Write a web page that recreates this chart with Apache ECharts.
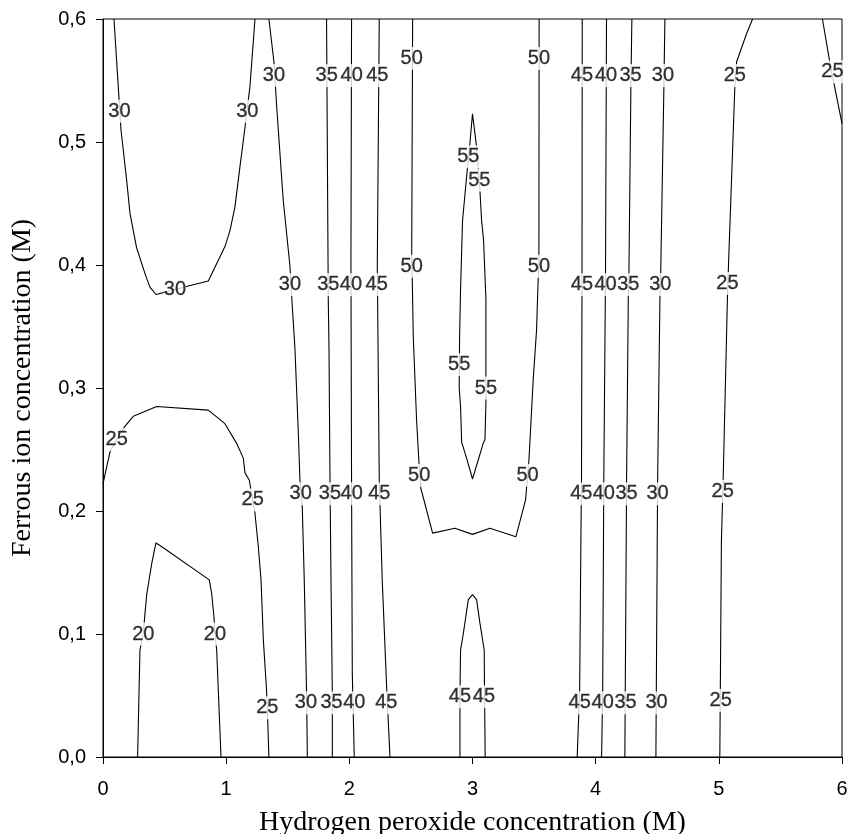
<!DOCTYPE html>
<html>
<head>
<meta charset="UTF-8">
<title>Contour</title>
<script src="https://cdn.jsdelivr.net/npm/echarts@6/dist/echarts.min.js"></script>
<style>
  html, body { margin: 0; height: 100%; background: #fff; }
  #main { width: 848px; height: 834px; }
</style>
</head>
<body>
<div id="main"></div>
<script>
// contour lines, [H2O2 (M), Fe2+ (M)]
var c20 = [[0.281,0],[0.300,0.087],[0.327,0.100],[0.341,0.117],[0.355,0.132],[0.395,0.157],[0.430,0.174],[0.463,0.172],[0.863,0.144],[0.882,0.133],[0.901,0.114],[0.909,0.100],[0.923,0.087],[0.958,0]];
var c25left = [[0,0.222],[0.057,0.248],[0.111,0.258],[0.179,0.269],[0.246,0.277],[0.436,0.285],[0.855,0.282],[0.990,0.271],[1.085,0.255],[1.139,0.243],[1.153,0.231],[1.188,0.225],[1.215,0.209],[1.234,0.198],[1.261,0.171],[1.283,0.144],[1.302,0.095],[1.328,0.054],[1.334,0.040],[1.347,0]];
var c25right = [[5.274,0.6],[5.225,0.588],[5.144,0.565],[5.130,0.545],[5.076,0.393],[5.070,0.374],[5.035,0.225],[5.021,0.176],[5.008,0]];
var c25corner = [[5.841,0.6],[5.901,0.565],[5.940,0.545],[6.0,0.515]];
var c30loop = [[0.089,0.6],[0.124,0.545],[0.146,0.510],[0.192,0.469],[0.219,0.442],[0.273,0.414],[0.341,0.393],[0.381,0.382],[0.430,0.376],[0.584,0.380],[0.693,0.383],[0.855,0.387],[0.990,0.415],[1.031,0.428],[1.071,0.447],[1.112,0.480],[1.153,0.512],[1.193,0.545],[1.234,0.6]];
var c30mid = [[1.347,0.6],[1.388,0.565],[1.410,0.529],[1.463,0.453],[1.518,0.399],[1.532,0.374],[1.558,0.333],[1.585,0.266],[1.599,0.225],[1.618,0.203],[1.634,0.144],[1.653,0.052],[1.659,0]];
var c35left = [[1.815,0.6],[1.829,0.372],[1.835,0.331],[1.843,0.225],[1.851,0.144],[1.862,0.052],[1.862,0]];
var c40left = [[2.018,0.6],[2.013,0.400],[2.018,0.225],[2.024,0.068],[2.040,0]];
var c45left = [[2.243,0.6],[2.227,0.400],[2.243,0.225],[2.267,0.144],[2.303,0.057],[2.330,0]];
var c50 = [[2.514,0.6],[2.506,0.400],[2.511,0.388],[2.519,0.342],[2.546,0.274],[2.565,0.240],[2.581,0.218],[2.595,0.213],[2.676,0.182],[2.857,0.186],[3.000,0.181],[3.141,0.186],[3.352,0.179],[3.431,0.209],[3.447,0.229],[3.458,0.241],[3.493,0.307],[3.520,0.347],[3.533,0.388],[3.539,0.400],[3.541,0.6]];
var c55 = [[3.000,0.523],[2.979,0.499],[2.958,0.478],[2.919,0.436],[2.903,0.380],[2.895,0.340],[2.892,0.300],[2.903,0.285],[2.912,0.256],[2.958,0.241],[3.000,0.226],[3.087,0.255],[3.101,0.258],[3.109,0.288],[3.109,0.372],[3.090,0.420],[3.074,0.436],[3.060,0.461],[3.050,0.475],[3.033,0.496],[3.000,0.523]];
var c45inner = [[2.898,0],[2.898,0.049],[2.903,0.087],[2.925,0.100],[2.966,0.128],[3.000,0.132],[3.033,0.128],[3.060,0.109],[3.095,0.087],[3.098,0.049],[3.103,0]];
var c45right = [[3.891,0.6],[3.889,0.384],[3.885,0.225],[3.880,0.176],[3.870,0.054],[3.850,0]];
var c40right = [[4.088,0.6],[4.080,0.393],[4.066,0.225],[4.057,0.054],[4.048,0]];
var c35right = [[4.294,0.6],[4.286,0.545],[4.270,0.393],[4.265,0.374],[4.251,0.225],[4.248,0.176],[4.237,0]];
var c30right = [[4.562,0.6],[4.554,0.545],[4.528,0.393],[4.522,0.374],[4.503,0.225],[4.500,0.176],[4.489,0]];

var contours = [c20, c25left, c25right, c25corner, c30loop, c30mid, c35left, c40left, c45left,
                c50, c55, c45inner, c45right, c40right, c35right, c30right];

// inline labels [x, y, level]
var levelLabels = [
  [0.327,0.100,'20'],[0.909,0.100,'20'],
  [0.111,0.258,'25'],[1.215,0.209,'25'],[1.334,0.040,'25'],
  [5.130,0.554,'25'],[5.070,0.385,'25'],[5.031,0.216,'25'],[5.015,0.046,'25'],[5.922,0.557,'25'],
  [0.133,0.525,'30'],[1.172,0.525,'30'],[0.584,0.380,'30'],
  [1.388,0.554,'30'],[1.518,0.384,'30'],[1.605,0.214,'30'],[1.648,0.044,'30'],
  [1.816,0.554,'35'],[1.829,0.384,'35'],[1.843,0.214,'35'],[1.856,0.044,'35'],
  [2.019,0.554,'40'],[2.013,0.384,'40'],[2.019,0.214,'40'],[2.040,0.044,'40'],
  [2.227,0.554,'45'],[2.222,0.384,'45'],[2.243,0.214,'45'],[2.300,0.044,'45'],
  [2.506,0.568,'50'],[2.506,0.399,'50'],[2.567,0.229,'50'],[3.447,0.229,'50'],[3.539,0.399,'50'],[3.539,0.568,'50'],
  [2.966,0.488,'55'],[3.055,0.469,'55'],[2.892,0.319,'55'],[3.109,0.300,'55'],
  [2.898,0.049,'45'],[3.093,0.049,'45'],
  [3.889,0.554,'45'],[3.889,0.384,'45'],[3.883,0.214,'45'],[3.870,0.044,'45'],
  [4.084,0.554,'40'],[4.080,0.384,'40'],[4.066,0.214,'40'],[4.057,0.044,'40'],
  [4.283,0.554,'35'],[4.265,0.384,'35'],[4.251,0.214,'35'],[4.243,0.044,'35'],
  [4.546,0.554,'30'],[4.525,0.384,'30'],[4.503,0.214,'30'],[4.494,0.044,'30']
];

var xTicks = { min: 0, max: 6, interval: 1 };
var yTicks = { min: 0, max: 0.6, interval: 0.1 };

var chart = echarts.init(document.getElementById('main'));

var series = contours.map(function (c) {
  return {
    type: 'line',
    data: c,
    showSymbol: false,
    symbol: 'none',
    smooth: false,
    silent: true,
    z: 2,
    lineStyle: { color: '#000', width: 1.1 }
  };
});

series.push({
  type: 'scatter',
  data: levelLabels,
  encode: { x: 0, y: 1 },
  symbolSize: 1,
  silent: true,
  z: 5,
  itemStyle: { color: 'rgba(0,0,0,0)' },
  label: {
    show: true,
    position: 'inside',
    formatter: function (p) { return p.value[2]; },
    color: '#000',
    textBorderColor: '#000',
    textBorderWidth: 0.3,
    fontFamily: 'Liberation Sans',
    fontSize: 20,
    lineHeight: 21,
    backgroundColor: '#fff',
    padding: [1, 0]
  }
});

var option = {
  animation: false,
  backgroundColor: '#fff',
  grid: {
    left: 103, right: 6, top: 19, bottom: 77,
    containLabel: false,
    outerBoundsMode: 'none',
    show: true, borderColor: '#000', borderWidth: 1, backgroundColor: 'transparent'
  },
  xAxis: {
    type: 'value',
    min: xTicks.min, max: xTicks.max, interval: xTicks.interval,
    name: 'Hydrogen peroxide concentration (M)',
    nameLocation: 'middle',
    nameGap: 52,
    nameTextStyle: { fontFamily: 'Liberation Serif', fontSize: 28, color: '#000' },
    axisLine: { show: true, lineStyle: { color: '#000', width: 1 } },
    axisTick: { show: true, length: 7, lineStyle: { color: '#000' } },
    axisLabel: { color: '#000', fontSize: 20, margin: 22, fontFamily: 'Liberation Sans' },
    splitLine: { show: false }
  },
  yAxis: {
    type: 'value',
    min: yTicks.min, max: yTicks.max, interval: yTicks.interval,
    name: 'Ferrous ion concentration (M)',
    nameLocation: 'middle',
    nameGap: 66,
    nameTextStyle: { fontFamily: 'Liberation Serif', fontSize: 28, color: '#000' },
    axisLine: { show: true, lineStyle: { color: '#000', width: 1 } },
    axisTick: { show: true, length: 7, lineStyle: { color: '#000' } },
    axisLabel: {
      color: '#000', fontSize: 20, margin: 17, fontFamily: 'Liberation Sans',
      formatter: function (v) { return v.toFixed(1).replace('.', ','); }
    },
    splitLine: { show: false }
  },
  series: series
};

chart.setOption(option);
</script>
</body>
</html>
